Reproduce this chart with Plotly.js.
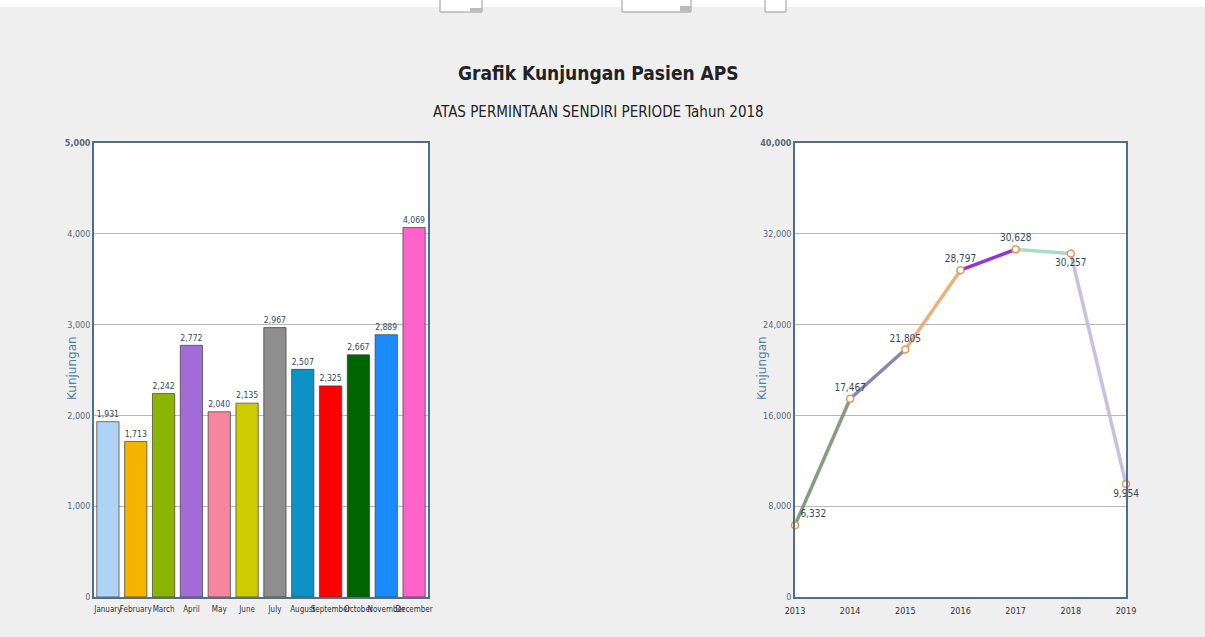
<!DOCTYPE html>
<html>
<head>
<meta charset="utf-8">
<script src="https://cdn.plot.ly/plotly-3.0.1.min.js"></script>
<style>
  html, body { margin: 0; padding: 0; background: #efefef; }
  #chart { width: 1205px; height: 637px; }
</style>
</head>
<body>
<div id="chart"></div>
<script>
// ---- Data ----
const months = ["January","February","March","April","May","June","July","August","September","October","November","December"];
const monthValues = [1931, 1713, 2242, 2772, 2040, 2135, 2967, 2507, 2325, 2667, 2889, 4069];
const monthColors = ["#b0d2f4","#f5b400","#8ab400","#a36bd6","#f5869f","#cccc00","#8e8e8e","#0d92c6","#ff0000","#006400","#1a8cff","#ff63c9"];

const years = [2013, 2014, 2015, 2016, 2017, 2018, 2019];
const yearValues = [6332, 17467, 21805, 28797, 30628, 30257, 9954];
const segmentColors = ["rgba(110,140,100,0.85)","rgba(120,110,160,0.85)","rgba(230,170,110,0.9)","rgba(140,30,210,0.9)","rgba(150,210,180,0.8)","rgba(190,180,220,0.85)"];
const yearLabelPos = ["top right","top center","top center","top center","top center","bottom center","bottom center"];

const barTickVals = [0, 1000, 2000, 3000, 4000, 5000];
const barTickText = ["0", "1,000", "2,000", "3,000", "4,000", "<b>5,000</b>"];
const lineTickVals = [0, 8000, 16000, 24000, 32000, 40000];
const lineTickText = ["0", "8,000", "16,000", "24,000", "32,000", "<b>40,000</b>"];

const mainTitle = "Grafik Kunjungan Pasien APS";
const subTitle = "ATAS PERMINTAAN SENDIRI PERIODE Tahun 2018";
const yTitle = "Kunjungan";

// ---- Helpers ----
const W = 1205, H = 637;
const px = v => v / W;
const py = v => 1 - v / H;
const fmt = n => n.toLocaleString("en-US");
const narrow = "DejaVu Sans Condensed, Liberation Sans Narrow, Arial Narrow, sans-serif";

const traces = [];

// Bar chart
traces.push({
  type: "bar",
  x: months,
  y: monthValues,
  xaxis: "x", yaxis: "y",
  marker: { color: monthColors, line: { color: "rgba(60,60,60,0.7)", width: 1 } },
  text: monthValues.map(fmt),
  textposition: "outside",
  textfont: { family: narrow, size: 10, color: "#34495e" },
  cliponaxis: false,
  hoverinfo: "x+y",
  showlegend: false
});

// Line chart segments
for (let i = 0; i < years.length - 1; i++) {
  traces.push({
    type: "scatter",
    mode: "lines",
    x: years.slice(i, i + 2),
    y: yearValues.slice(i, i + 2),
    xaxis: "x2", yaxis: "y2",
    line: { color: segmentColors[i], width: 3.5 },
    hoverinfo: "skip",
    showlegend: false
  });
}
traces.push({
  type: "scatter",
  mode: "markers+text",
  x: years,
  y: yearValues,
  xaxis: "x2", yaxis: "y2",
  marker: { size: 7, color: "#ffffff", line: { color: "#e8925a", width: 1.5 } },
  text: yearValues.map(fmt),
  textposition: yearLabelPos,
  textfont: { family: narrow, size: 10, color: "#34495e" },
  cliponaxis: false,
  showlegend: false
});

const axisLine = { showline: true, linecolor: "#4d6f8c", linewidth: 1.5, mirror: true };
const yDomain = [py(597), py(143)];

const layout = {
  width: W, height: H,
  margin: { l: 0, r: 0, t: 0, b: 0 },
  paper_bgcolor: "#efefef",
  plot_bgcolor: "#ffffff",
  showlegend: false,
  bargap: 0.2,
  xaxis: Object.assign({}, axisLine, {
    domain: [px(94), px(428)],
    type: "category",
    tickangle: 0,
    ticklabelstandoff: 4,
    tickfont: { family: narrow, size: 8, color: "#333" },
    ticks: "", automargin: false, fixedrange: true
  }),
  yaxis: Object.assign({}, axisLine, {
    domain: yDomain,
    range: [0, 5000],
    tickvals: barTickVals, ticktext: barTickText,
    tickfont: { family: narrow, size: 9, color: "#5a6a7a" },
    gridcolor: "#b8b8b8", gridwidth: 1, zeroline: false,
    ticks: "", automargin: false, fixedrange: true
  }),
  xaxis2: Object.assign({}, axisLine, {
    domain: [px(795), px(1126)],
    anchor: "y2",
    range: [2013, 2019],
    tickvals: years,
    tickangle: 0,
    ticklabelstandoff: 4,
    tickfont: { family: narrow, size: 9, color: "#333" },
    showgrid: false, zeroline: false,
    ticks: "", automargin: false, fixedrange: true
  }),
  yaxis2: Object.assign({}, axisLine, {
    domain: yDomain,
    anchor: "x2",
    range: [0, 40000],
    tickvals: lineTickVals, ticktext: lineTickText,
    tickfont: { family: narrow, size: 9, color: "#5a6a7a" },
    gridcolor: "#b8b8b8", gridwidth: 1, zeroline: false,
    ticks: "", automargin: false, fixedrange: true
  }),
  annotations: [
    { text: "<b>" + mainTitle + "</b>", xref: "paper", yref: "paper", x: px(598), y: py(60),
      showarrow: false, font: { family: narrow, size: 19, color: "#222" } },
    { text: subTitle, xref: "paper", yref: "paper", x: px(598), y: py(101),
      showarrow: false, font: { family: narrow, size: 15, color: "#222" } },
    { text: yTitle, xref: "paper", yref: "paper", x: px(63), y: py(368), textangle: -90,
      showarrow: false, font: { family: "DejaVu Sans, sans-serif", size: 12, color: "#4f7fa6" } },
    { text: yTitle, xref: "paper", yref: "paper", x: px(762), y: py(368), textangle: -90,
      showarrow: false, font: { family: "DejaVu Sans, sans-serif", size: 12, color: "#4f7fa6" } }
  ],
  shapes: [
    { type: "rect", xref: "paper", yref: "paper", x0: 0, x1: 1, y0: py(7), y1: 1, fillcolor: "#ffffff", line: { width: 0 }, layer: "below" },
    { type: "rect", xref: "paper", yref: "paper", x0: px(440), x1: px(482), y0: py(12), y1: 1.01, fillcolor: "#ffffff", line: { color: "#999", width: 1 } },
    { type: "rect", xref: "paper", yref: "paper", x0: px(470), x1: px(482), y0: py(12), y1: py(8), fillcolor: "#bbbbbb", line: { width: 0 } },
    { type: "rect", xref: "paper", yref: "paper", x0: px(622), x1: px(691), y0: py(12), y1: 1.01, fillcolor: "#ffffff", line: { color: "#999", width: 1 } },
    { type: "rect", xref: "paper", yref: "paper", x0: px(680), x1: px(691), y0: py(12), y1: py(6), fillcolor: "#bbbbbb", line: { width: 0 } },
    { type: "rect", xref: "paper", yref: "paper", x0: px(765), x1: px(786), y0: py(12), y1: 1.01, fillcolor: "#ffffff", line: { color: "#999", width: 1 } }
  ]
};

Plotly.newPlot("chart", traces, layout, { displayModeBar: false, staticPlot: false });
</script>
</body>
</html>
